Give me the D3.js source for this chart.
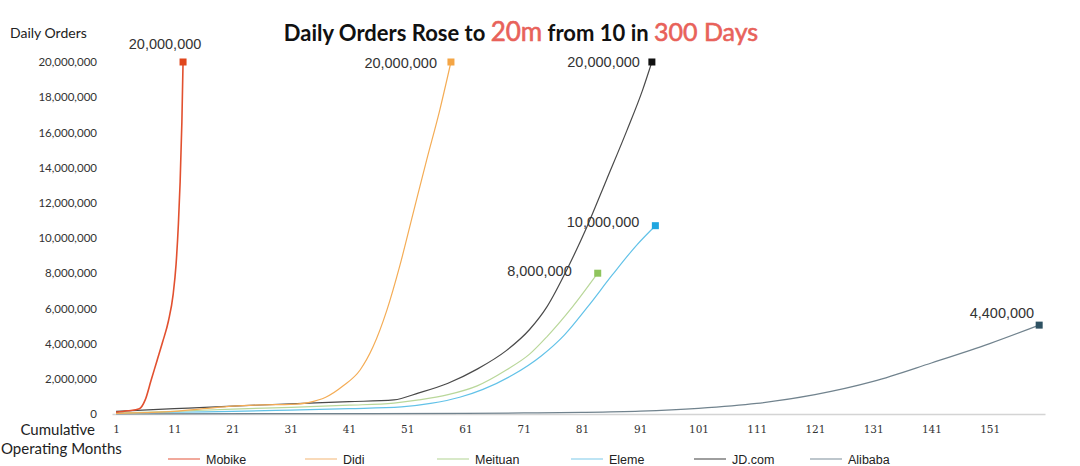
<!DOCTYPE html>
<html>
<head>
<meta charset="utf-8">
<script src="https://cdn.jsdelivr.net/npm/d3@7"></script>
<style>
  body { margin: 0; background: #fff; }
</style>
</head>
<body>
<svg id="chart" width="1080" height="466"></svg>
<script>
// Daily orders (millions) by cumulative operating month
var mobike = [[1, 0.1], [3, 0.18], [5, 0.3], [6, 0.8], [7, 1.9], [8, 3.0], [9, 4.1], [10, 5.3], [10.8, 6.8], [11.3, 8.5], [11.7, 10.8], [12, 13.2], [12.3, 16.6], [12.5, 20]];
var didi = [[1, 0.03], [6, 0.08], [11, 0.15], [16, 0.3], [21, 0.45], [26, 0.52], [31, 0.55], [34, 0.65], [37, 0.95], [40, 1.6], [42.9, 2.5], [45.1, 3.8], [47.5, 5.9], [49.7, 8.4], [52, 11.4], [54.3, 14.4], [56.6, 17.3], [58.5, 20]];
var meituan = [[1, 0.05], [11, 0.15], [21, 0.28], [31, 0.38], [41, 0.5], [48.7, 0.62], [53, 0.8], [58, 1.1], [63, 1.6], [68, 2.5], [72, 3.4], [75, 4.4], [79.4, 6.1], [83.7, 8]];
var eleme = [[1, 0.05], [11, 0.1], [21, 0.15], [31, 0.22], [41, 0.3], [50, 0.4], [55, 0.6], [60, 0.95], [64, 1.4], [69, 2.2], [74, 3.3], [78, 4.5], [82, 6.1], [86.2, 7.9], [90.4, 9.6], [93.6, 10.7]];
var jd = [[1, 0.15], [11, 0.3], [21, 0.45], [31, 0.58], [41, 0.7], [48.7, 0.8], [53, 1.2], [58, 1.75], [63, 2.55], [68, 3.6], [72, 4.8], [75, 6.1], [78.4, 8.2], [81.8, 10.6], [85.2, 13.3], [88.7, 16.1], [91.4, 18.4], [93, 20]];
var alibaba = [[1, 0.01], [31, 0.02], [61, 0.04], [71, 0.06], [81, 0.09], [91, 0.16], [101, 0.32], [111, 0.6], [121, 1.1], [131, 1.85], [141, 2.9], [151, 4.0], [159.5, 5.05]];

var seriesNames = ["Mobike", "Didi", "Meituan", "Eleme", "JD.com", "Alibaba"];
var endLabels = ["20,000,000", "20,000,000", "8,000,000", "10,000,000", "20,000,000", "4,400,000"];
var yTicks = [0, 2, 4, 6, 8, 10, 12, 14, 16, 18, 20];
var xTicks = [1, 11, 21, 31, 41, 51, 61, 71, 81, 91, 101, 111, 121, 131, 141, 151];

// styles, same order as seriesNames
var allSeries = [mobike, didi, meituan, eleme, jd, alibaba];
var lineColors = ["#e2502f", "#f4ac55", "#b9d79a", "#62c2e8", "#4a4a4a", "#71838e"];
var markerColors = ["#e0461c", "#f4a545", "#8fc45c", "#1fa6e0", "#111111", "#2e5162"];
var legendColors = ["#ea7a66", "#f6c694", "#c3deab", "#9ad5ef", "#6a6a6a", "#9aa8b0"];
var labelPos = [[-18, -13, "middle"], [-14, 6, "end"], [-26, 3, "end"], [-16, 1, "end"], [-12, 5, "end"], [-5, -7, "end"]];
var legendX = [168, 305, 437, 571, 694, 810];
var drawOrder = [5, 4, 3, 2, 1, 0];

var svg = d3.select("#chart");

var x = d3.scaleLinear().domain([0.3, 160.5]).range([112, 1045]);
var y = d3.scaleLinear().domain([0, 20]).range([414, 62]);

// y axis labels only, no line
var yAxis = svg.append("g")
  .attr("transform", "translate(97,0)")
  .call(d3.axisLeft(y).tickValues(yTicks).tickSize(0).tickPadding(0)
    .tickFormat(function (d) { return d3.format(",")(d * 1000000); }));
yAxis.select(".domain").remove();
yAxis.selectAll("text")
  .attr("font-family", "Lato, 'Open Sans', sans-serif")
  .attr("font-size", "11.5px")
  .attr("fill", "#333");

// x axis
var xAxis = svg.append("g")
  .attr("transform", "translate(0,414)")
  .call(d3.axisBottom(x).tickValues(xTicks).tickSize(0).tickPadding(12));
xAxis.select(".domain").attr("stroke", "#d4d4d4").attr("stroke-width", 1.5);
xAxis.selectAll("text")
  .attr("font-family", "'DejaVu Serif', serif")
  .attr("font-size", "10.5px")
  .attr("fill", "#333");

// axis titles
svg.append("text")
  .attr("x", 10).attr("y", 38)
  .attr("font-family", "Lato, sans-serif")
  .attr("font-size", "14px")
  .attr("fill", "#222")
  .text("Daily Orders");

svg.append("text")
  .attr("x", 95).attr("y", 435)
  .attr("text-anchor", "end")
  .attr("font-family", "Lato, sans-serif")
  .attr("font-size", "15px")
  .attr("fill", "#222")
  .text("Cumulative");

svg.append("text")
  .attr("x", 1).attr("y", 454)
  .attr("font-family", "Lato, sans-serif")
  .attr("font-size", "15px")
  .attr("fill", "#222")
  .text("Operating Months");

// title
var title = svg.append("text")
  .attr("x", 521).attr("y", 41)
  .attr("text-anchor", "middle")
  .attr("font-family", "Lato, sans-serif")
  .attr("font-weight", "bold")
  .attr("font-size", "22px")
  .attr("fill", "#111");
title.append("tspan").text("Daily Orders Rose to ");
title.append("tspan").attr("fill", "#e8625a").attr("font-weight", "normal")
  .attr("stroke", "#e8625a").attr("stroke-width", 0.6).attr("font-size", "26px").text("20m");
title.append("tspan").text(" from 10 in ");
title.append("tspan").attr("fill", "#e8625a").attr("font-weight", "normal")
  .attr("stroke", "#e8625a").attr("stroke-width", 0.6).attr("font-size", "25px").text("300 Days");

// lines
var line = d3.line()
  .x(function (d) { return x(d[0]); })
  .y(function (d) { return y(d[1]); })
  .curve(d3.curveMonotoneX);

drawOrder.forEach(function (i) {
  svg.append("path")
    .datum(allSeries[i])
    .attr("d", line)
    .attr("fill", "none")
    .attr("stroke", lineColors[i])
    .attr("stroke-width", i === 0 ? 1.6 : 1.2);
});

// end markers and labels
allSeries.forEach(function (s, i) {
  var last = s[s.length - 1];
  var px = x(last[0]), py = y(last[1]);
  svg.append("rect")
    .attr("x", px - 3.5).attr("y", py - 3.5)
    .attr("width", 7).attr("height", 7)
    .attr("fill", markerColors[i]);
  svg.append("text")
    .attr("x", px + labelPos[i][0])
    .attr("y", py + labelPos[i][1])
    .attr("text-anchor", labelPos[i][2])
    .attr("font-family", "'Liberation Sans', Arial, sans-serif")
    .attr("font-size", "14.5px")
    .attr("fill", "#333")
    .text(endLabels[i]);
});

// legend
var legend = svg.append("g").attr("transform", "translate(0,459)");
var items = legend.selectAll("g")
  .data(seriesNames)
  .enter()
  .append("g")
  .attr("transform", function (d, i) { return "translate(" + legendX[i] + ",0)"; });

items.append("line")
  .attr("x1", 0).attr("x2", 32)
  .attr("stroke", function (d, i) { return legendColors[i]; })
  .attr("stroke-width", 1.3);

items.append("text")
  .attr("x", 38).attr("y", 4.5)
  .attr("font-family", "'Liberation Sans', Arial, sans-serif")
  .attr("font-size", "12.5px")
  .attr("fill", "#222")
  .text(function (d) { return d; });
</script>
</body>
</html>
